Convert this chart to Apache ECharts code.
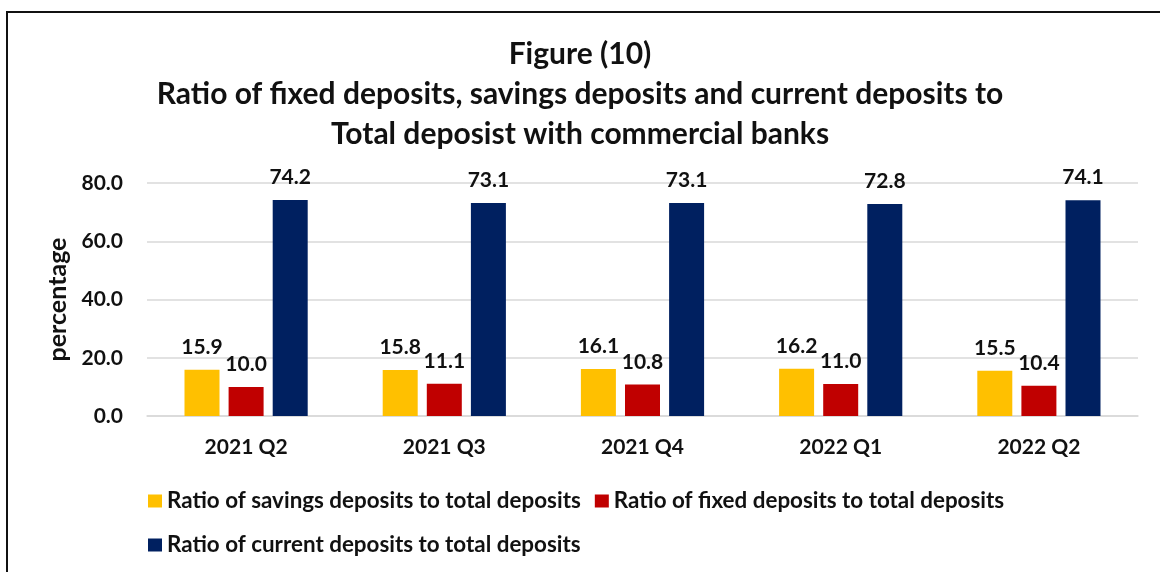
<!DOCTYPE html>
<html>
<head>
<meta charset="utf-8">
<script src="https://cdn.jsdelivr.net/npm/echarts@6/dist/echarts.min.js"></script>
<style>
  html, body { margin: 0; padding: 0; background: #fff; }
  #chart { width: 1160px; height: 572px; }
</style>
</head>
<body>
<div id="chart"></div>
<script>
// Quarters on the x axis
const quarters = ['2021 Q2', '2021 Q3', '2021 Q4', '2022 Q1', '2022 Q2'];

// Shares of total deposits (%)
const savingsRatio = [15.9, 15.8, 16.1, 16.2, 15.5];
const fixedRatio = [10.0, 11.1, 10.8, 11.0, 10.4];
const currentRatio = [74.2, 73.1, 73.1, 72.8, 74.1];

const seriesNames = [
  'Ratio of savings deposits to total deposits',
  'Ratio of fixed deposits to total deposits',
  'Ratio of current deposits to total deposits'
];

const FONT = 'Lato, "Liberation Sans", sans-serif';
const INK = '#111';

const chart = echarts.init(document.getElementById('chart'), null, { renderer: 'canvas' });

function barSeries(name, data, color) {
  return {
    name: name,
    type: 'bar',
    data: data,
    barWidth: 35,
    barGap: '26%',
    itemStyle: { color: color },
    label: {
      show: true,
      position: 'top',
      distance: 12,
      formatter: p => p.value.toFixed(1),
      color: INK,
      fontFamily: FONT,
      fontWeight: 'bold',
      fontSize: 21
    }
  };
}

const legendText = { fontFamily: FONT, fontWeight: 'bold', fontSize: 22.4, color: INK };

chart.setOption({
  animation: false,
  backgroundColor: '#fff',
  title: {
    text: 'Figure (10)\nRatio of fixed deposits, savings deposits and current deposits to\nTotal deposist with commercial banks',
    left: 'center',
    top: 29,
    textStyle: {
      fontFamily: FONT,
      fontWeight: 'bold',
      fontSize: 30,
      lineHeight: 40,
      color: INK,
      align: 'center'
    }
  },
  graphic: [{
    type: 'rect',
    shape: { x: 7, y: 12, width: 1200, height: 700 },
    style: { fill: null, stroke: INK, lineWidth: 2 },
    silent: true
  }],
  legend: [{
    data: seriesNames.slice(0, 2),
    left: 143,
    top: 485,
    itemWidth: 14,
    itemHeight: 13,
    itemGap: 14,
    icon: 'rect',
    textStyle: legendText
  }, {
    data: seriesNames.slice(2),
    left: 143,
    top: 529,
    itemWidth: 14,
    itemHeight: 13,
    icon: 'rect',
    textStyle: legendText
  }],
  grid: {
    left: 147,
    right: 22,
    top: 183,
    bottom: 156,
    containLabel: false
  },
  xAxis: {
    type: 'category',
    data: quarters,
    axisLine: { show: true, lineStyle: { color: '#d9d9d9', width: 1.5 } },
    axisTick: { show: false },
    axisLabel: {
      margin: 21,
      color: INK,
      fontFamily: FONT,
      fontWeight: 'bold',
      fontSize: 21
    }
  },
  yAxis: {
    type: 'value',
    min: 0,
    max: 80,
    interval: 20,
    name: 'percentage',
    nameLocation: 'middle',
    nameGap: 76,
    nameRotate: 90,
    nameTextStyle: {
      fontFamily: FONT,
      fontWeight: 'bold',
      fontSize: 25,
      color: INK
    },
    axisLine: { show: false },
    axisTick: { show: false },
    splitLine: { lineStyle: { color: '#d9d9d9', width: 1.5 } },
    axisLabel: {
      margin: 24,
      formatter: v => v.toFixed(1),
      color: INK,
      fontFamily: FONT,
      fontWeight: 'bold',
      fontSize: 21
    }
  },
  series: [
    barSeries(seriesNames[0], savingsRatio, '#FFC000'),
    barSeries(seriesNames[1], fixedRatio, '#C00000'),
    barSeries(seriesNames[2], currentRatio, '#002060')
  ]
});
</script>
</body>
</html>
